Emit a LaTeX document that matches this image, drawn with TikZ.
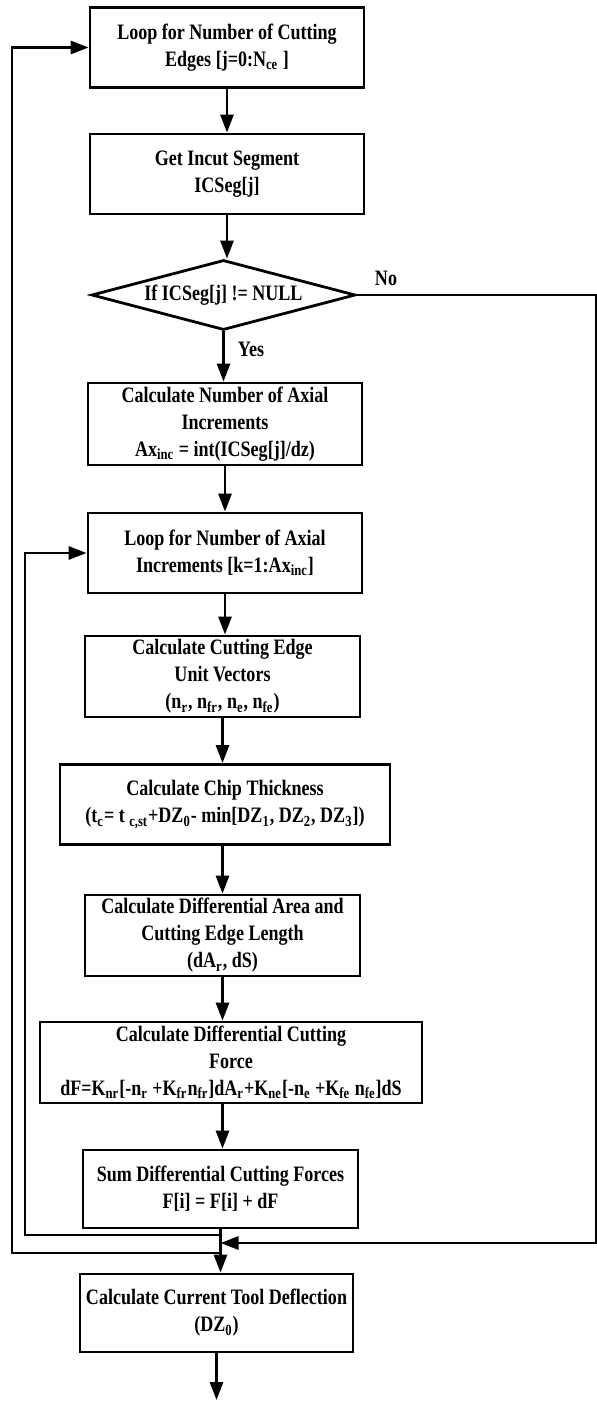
\documentclass[tikz,border=0pt]{standalone}
\usepackage{fontspec}
\setmainfont{Liberation Serif}[FakeStretch=0.82]
\usepackage{tikz}
\usetikzlibrary{shapes,arrows.meta,positioning,calc}

\begin{document}
\begin{tikzpicture}[
    x=0.5pt, y=-0.5pt,
    font=\fontsize{11}{13.5}\selectfont\bfseries,
    box/.style={draw, rectangle, line width=1.4pt, minimum width=137pt, minimum height=40pt, align=center, inner sep=1pt},
    test/.style={draw, diamond, line width=1.4pt, aspect=3.75, minimum width=132pt, minimum height=35pt, inner sep=0pt},
    arr/.style={-{Triangle[length=9pt,width=6.5pt]}, line width=1.4pt}
]
    \useasboundingbox (0,0) rectangle (597,1403);

    % Loop over cutting edges
    \node[box] (loopce) at (227,47.5) {Loop for Number of Cutting\\Edges [j=0:N\textsubscript{ce} ]};

    % Incut segment
    \node[box] (incut) at (227,174) {Get Incut Segment\\ICSeg[j]};

    % Null test
    \node[test] (test) at (223.5,295) {If ICSeg[j] != NULL};
    \node (no) at (386,278) {No};
    \node (yes) at (251,349) {Yes};

    % Axial increments
    \node[box, minimum height=41pt] (calcinc) at (225,424) {Calculate Number of Axial\\Increments\\Ax\textsubscript{inc} = int(ICSeg[j]/dz)};
    \node[box] (loopax) at (225,553) {Loop for Number of Axial\\Increments [k=1:Ax\textsubscript{inc}]};

    % Geometry of the edge
    \node[box, minimum width=137.5pt, minimum height=40.5pt] (unitvec) at (222.5,676.5) {Calculate Cutting Edge\\Unit Vectors\\(n\textsubscript{r}, n\textsubscript{fr}, n\textsubscript{e}, n\textsubscript{fe})};
    \node[box, minimum width=165pt] (chip) at (225,804.5) {Calculate Chip Thickness\\(t\textsubscript{c}= t \textsubscript{c,st}+DZ\textsubscript{0}- min[DZ\textsubscript{1}, DZ\textsubscript{2}, DZ\textsubscript{3}])};
    \node[box, minimum width=137.5pt, minimum height=40.5pt] (area) at (222.5,935.5) {Calculate Differential Area and\\Cutting Edge Length\\(dA\textsubscript{r}, dS)};

    % Forces
    \node[box, minimum width=191pt, minimum height=40.5pt] (force) at (231,1062.5) {Calculate Differential Cutting\\Force\\dF=K\textsubscript{nr}[-n\textsubscript{r} +K\textsubscript{fr}n\textsubscript{fr}]dA\textsubscript{r}+K\textsubscript{ne}[-n\textsubscript{e} +K\textsubscript{fe} n\textsubscript{fe}]dS};
    \node[box, minimum width=137.5pt, minimum height=39pt] (sum) at (220.5,1189) {Sum Differential Cutting Forces\\F[i] = F[i] + dF};

    % Deflection
    \node[box, minimum width=136.5pt, minimum height=39pt] (defl) at (216.5,1313) {Calculate Current Tool  Deflection\\(DZ\textsubscript{0})};

    % Junction points
    \coordinate (jin) at (sum.south |- 0,1235);
    \coordinate (jno) at (sum.south |- 0,1243);
    \coordinate (jout) at (sum.south |- 0,1253);
    \coordinate (out) at (defl.south |- 0,1400);

    % Arrows
    \draw[arr] (loopce) -- (loopce.south |- incut.north);
    \draw[arr] (incut) -- (incut.south |- test.north);
    \draw[arr] (test) -- (test.south |- calcinc.north);
    \draw[arr] (calcinc) -- (calcinc.south |- loopax.north);
    \draw[arr] (loopax) -- (loopax.south |- unitvec.north);
    \draw[arr] (unitvec) -- (unitvec.south |- chip.north);
    \draw[arr] (chip.south -| unitvec) -- (unitvec |- area.north);
    \draw[arr] (area) -- (area.south |- force.north);
    \draw[arr] (force.south -| area) -- (area |- sum.north);
    \draw[arr] (sum) -- (sum.south |- defl.north);
    \draw[arr] (defl) -- (out);

    % Loop backs
    \draw[arr] (jin) -- (jin -| 25,0) |- (loopax.west);
    \draw[arr] (jout) -- (jout -| 12,0) |- (loopce.west);
    \draw[arr] (test.east) -- (596,0 |- test.east) |- (jno);
\end{tikzpicture}
\end{document}
